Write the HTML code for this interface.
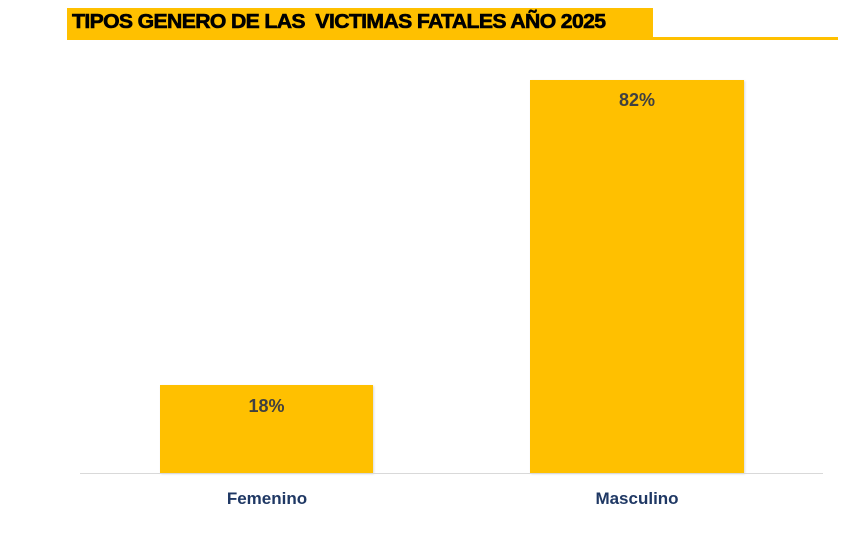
<!DOCTYPE html>
<html><head><style>
body{margin:0;width:865px;height:533px;background:#fff;position:relative;overflow:hidden;font-family:"Liberation Sans",sans-serif}
div{position:absolute}
.t{left:67px;top:8px;width:586px;height:30px;background:#ffc000}
.tt{left:72px;top:11px;font-weight:bold;font-size:20px;color:#000;letter-spacing:-0.6px;transform:scaleX(1.06);transform-origin:left;-webkit-text-stroke:0.6px #000;white-space:nowrap}
.ln{left:67px;top:37px;width:771px;height:3px;background:#ffc000}
.bar{background:#ffc000;box-shadow:1px 1px 2px rgba(0,0,0,0.15)}
.v{width:100%;text-align:center;font-weight:bold;font-size:18px;color:#404040}
.ax{left:80px;top:473px;width:743px;height:1px;background:#d9d9d9}
.l{font-weight:bold;font-size:17px;color:#1f3864;text-align:center;width:214px;top:489px}
</style></head><body>
<div class="t"></div>
<div class="tt">TIPOS GENERO DE LAS&nbsp; VICTIMAS FATALES AÑO 2025</div>
<div class="ln"></div>
<div class="bar" style="left:160px;top:385px;width:213px;height:88px"><div class="v" style="top:11px">18%</div></div>
<div class="bar" style="left:530px;top:80px;width:214px;height:393px"><div class="v" style="top:10px">82%</div></div>
<div class="ax"></div>
<div class="l" style="left:160px">Femenino</div>
<div class="l" style="left:530px">Masculino</div>
</body></html>
